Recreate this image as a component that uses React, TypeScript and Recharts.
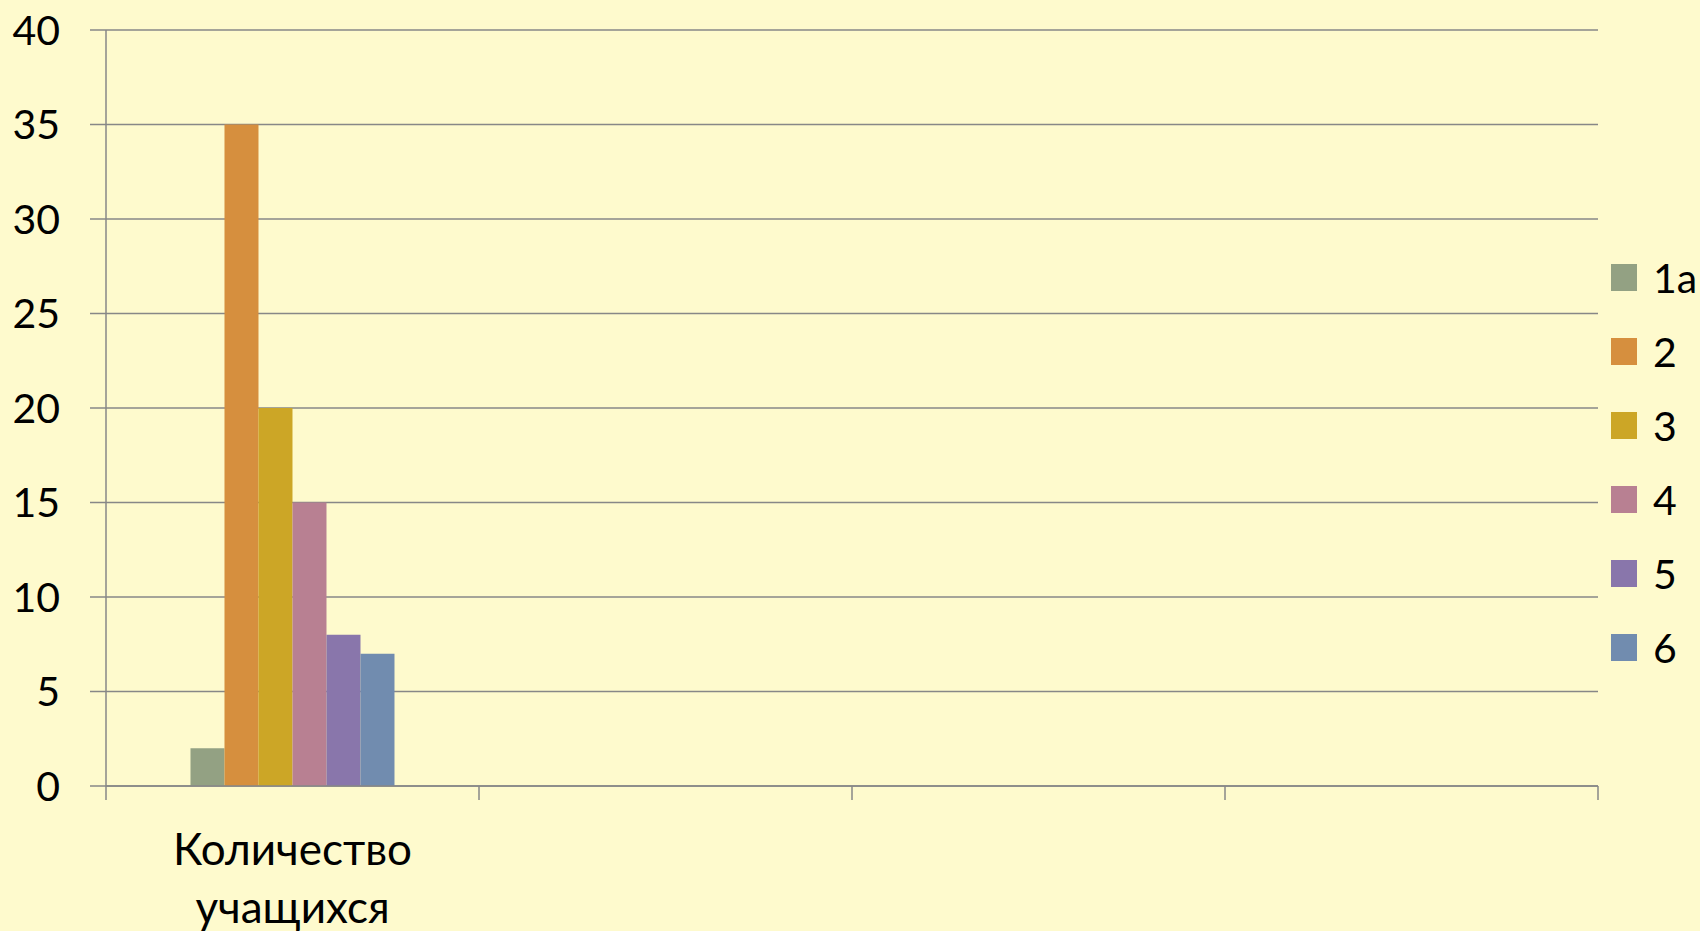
import { BarChart, Bar, XAxis, YAxis, CartesianGrid, Legend } from 'recharts'

const CATEGORIES = ['Количество учащихся', '', '', '']
const SERIES_NAMES = ['1a', '2', '3', '4', '5', '6']
const SERIES_VALUES = [2, 35, 20, 15, 8, 7]
const Y_TICKS = [0, 5, 10, 15, 20, 25, 30, 35, 40]

const COLORS = ['#93A183', '#D68F3E', '#CCA626', '#B88092', '#8976AB', '#718CAF']

const W = 1700
const H = 931
const PLOT_LEFT = 106
const PLOT_RIGHT = 1598
const AXIS = '#878787'
const FONT = 41

// only the first category carries values
const data = CATEGORIES.map((name, ci) => {
  const row: Record<string, string | number | null> = { name }
  SERIES_NAMES.forEach((s, i) => {
    row[s] = ci === 0 ? SERIES_VALUES[i] : null
  })
  return row
})

const band = (PLOT_RIGHT - PLOT_LEFT) / CATEGORIES.length

function CategoryTick(props: any) {
  const { x, y, payload, index } = props
  const words = String(payload.value).split(' ').filter(Boolean)
  const left = x - band / 2
  return (
    <g>
      <line x1={left} x2={left} y1={y} y2={y + 14} stroke={AXIS} strokeWidth={1.5} />
      {index === CATEGORIES.length - 1 && (
        <line x1={x + band / 2} x2={x + band / 2} y1={y} y2={y + 14} stroke={AXIS} strokeWidth={1.5} />
      )}
      <text x={x} y={y} textAnchor="middle" fill="#000" fontSize={44}>
        {words.map((w, i) => (
          <tspan key={i} x={x} dy={i === 0 ? 79 : 58}>
            {w}
          </tspan>
        ))}
      </text>
    </g>
  )
}

function LegendContent() {
  return (
    <div style={{ paddingLeft: 13 }}>
      {SERIES_NAMES.map((s, i) => (
        <div key={s} style={{ height: 74, display: 'flex', alignItems: 'center' }}>
          <span style={{ width: 26, height: 27, background: COLORS[i], display: 'inline-block' }} />
          <span style={{ marginLeft: 16, fontSize: FONT, color: '#000', lineHeight: 1 }}>{s}</span>
        </div>
      ))}
    </div>
  )
}

export default function App() {
  return (
    <div
      style={{
        position: 'absolute',
        left: 0,
        top: 0,
        width: W,
        height: H,
        background: '#FEFACD',
        fontFamily: 'Lato, sans-serif',
        overflow: 'hidden',
      }}
    >
      <BarChart
        width={W}
        height={H}
        data={data}
        margin={{ top: 30, right: 0, bottom: 0, left: 0 }}
        barCategoryGap="22.65%"
        barGap={0}
      >
        <CartesianGrid vertical={false} stroke={AXIS} strokeWidth={1.5} />
        <XAxis
          dataKey="name"
          height={145}
          axisLine={{ stroke: AXIS, strokeWidth: 1.5 }}
          tickLine={false}
          tickSize={0}
          tickMargin={0}
          tick={<CategoryTick />}
          interval={0}
        />
        <YAxis
          width={PLOT_LEFT}
          domain={[0, 40]}
          ticks={Y_TICKS}
          interval={0}
          axisLine={{ stroke: AXIS, strokeWidth: 1.5 }}
          tickLine={{ stroke: AXIS, strokeWidth: 1.5 }}
          tickSize={16}
          tickMargin={30}
          tick={{ fill: '#000', fontSize: FONT }}
        />
        <Legend
          layout="vertical"
          align="right"
          verticalAlign="middle"
          content={<LegendContent />}
          wrapperStyle={{ left: PLOT_RIGHT, top: 240, width: W - PLOT_RIGHT }}
        />
        {SERIES_NAMES.map((s, i) => (
          <Bar key={s} dataKey={s} name={s} fill={COLORS[i]} isAnimationActive={false} />
        ))}
      </BarChart>
    </div>
  )
}
